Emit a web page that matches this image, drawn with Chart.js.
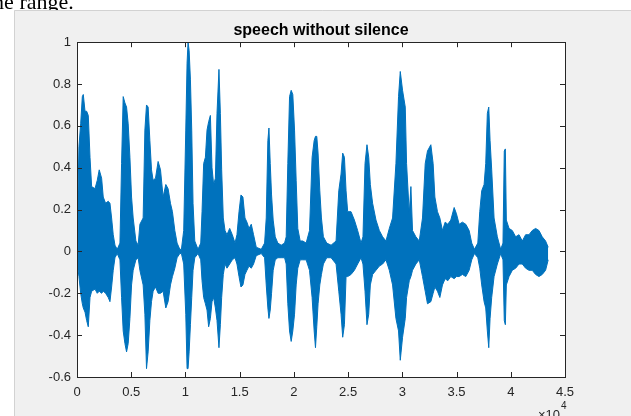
<!DOCTYPE html>
<html>
<head>
<meta charset="utf-8">
<script src="https://cdn.jsdelivr.net/npm/chart.js@4"></script>
<style>
  html, body { margin: 0; padding: 0; background: #fff; overflow: hidden; }
  canvas { display: block; }
</style>
</head>
<body>
<canvas id="chart1" width="631" height="416"></canvas>
<script>
// DATA - envelope of the waveform (sample index, max, min)
const sampleIdx = [
  0, 180, 340, 490, 580, 740, 890, 1040, 1200, 1350, 1660, 1870, 2050, 2270, 2420, 2640, 2880, 3040, 3190, 3340, 3500, 3710,
  3960, 4110, 4260, 4420, 4570, 4720, 4880, 5030, 5180, 5430, 5640,
  5800, 6100, 6260, 6410, 6560, 6720, 6870, 7020, 7240, 7480, 7700, 7940, 8190, 8400, 8620, 8800, 9020, 9230, 9480,
  9630, 9840, 10030, 10150, 10240, 10340, 10460, 10580, 10700, 10860, 11160,
  11410, 11530, 11680, 11840, 11990, 12140, 12300, 12450, 12600, 12760, 12910, 13090, 13220, 13340, 13490, 13650,
  13830, 14080, 14320, 14570, 14750, 14940, 15120, 15300, 15490, 15670, 15860, 16070, 16280, 16530, 16990,
  17300, 17450, 17600, 17700, 17820, 17940, 18090, 18280, 18520, 18830, 19140,
  19290, 19440, 19600, 19750, 19900, 20060, 20210, 20360, 20580, 20820, 21130,
  21440, 21680, 21870, 21990, 22110, 22230, 22390, 22540, 22720, 23030, 23430,
  23890, 24140, 24350, 24500, 24660, 24810, 24960, 25270, 25580, 25880, 26190,
  26370, 26560, 26740, 26900, 27050, 27260, 27570, 27880, 28180, 28490,
  28800, 29100, 29410, 29650, 29810, 30020, 30270, 30390, 30640, 30790, 30940, 31250, 31560,
  31860, 32110, 32320, 32630, 32840, 33000, 33240, 33460, 33700, 33950, 34190, 34470, 34780, 34990, 35240, 35540, 35850, 36160, 36400, 36650,
  36960, 37140, 37320, 37540, 37690, 37840, 37970, 38090, 38240, 38460, 38760, 39070,
  39280, 39400, 39500, 39590, 39840, 40140, 40450, 40760, 41060, 41370, 41680, 41980, 42290, 42600, 42900, 43210, 43450
];
const upperEnv = [
  0.05, 0.50, 0.61, 0.74, 0.75, 0.67, 0.67, 0.65, 0.45, 0.31, 0.30, 0.34, 0.39, 0.35, 0.26, 0.23, 0.24, 0.23, 0.16, 0.08, 0.03, 0.01,
  0.04, 0.42, 0.74, 0.71, 0.69, 0.61, 0.45, 0.26, 0.16, 0.05, 0.03,
  0.13, 0.16, 0.58, 0.70, 0.69, 0.53, 0.39, 0.34, 0.35, 0.43, 0.39, 0.26, 0.32, 0.30, 0.23, 0.19, 0.10, 0.04, 0.01,
  0.01, 0.10, 0.58, 0.90, 1.00, 0.96, 0.82, 0.58, 0.23, 0.05, 0.01,
  0.04, 0.19, 0.42, 0.45, 0.58, 0.62, 0.65, 0.40, 0.32, 0.35, 0.66, 0.87, 0.66, 0.39, 0.16, 0.10,
  0.08, 0.11, 0.08, 0.04, 0.08, 0.19, 0.27, 0.26, 0.16, 0.14, 0.11, 0.13, 0.08, 0.02, 0.01,
  0.04, 0.16, 0.53, 0.59, 0.42, 0.27, 0.15, 0.07, 0.04, 0.03, 0.04,
  0.07, 0.42, 0.74, 0.77, 0.75, 0.58, 0.34, 0.11, 0.05, 0.05, 0.04,
  0.10, 0.45, 0.53, 0.55, 0.55, 0.47, 0.29, 0.16, 0.07, 0.04, 0.03,
  0.05, 0.29, 0.37, 0.47, 0.45, 0.29, 0.19, 0.19, 0.15, 0.10, 0.04,
  0.07, 0.42, 0.51, 0.45, 0.32, 0.23, 0.15, 0.10, 0.07, 0.05,
  0.11, 0.16, 0.42, 0.74, 0.86, 0.77, 0.69, 0.42, 0.18, 0.31, 0.10, 0.07, 0.05,
  0.16, 0.42, 0.48, 0.51, 0.42, 0.26, 0.19, 0.16, 0.10, 0.14, 0.13, 0.15, 0.21, 0.18, 0.13, 0.14, 0.13, 0.10, 0.04, 0.01,
  0.04, 0.19, 0.29, 0.32, 0.42, 0.66, 0.69, 0.53, 0.39, 0.16, 0.07, 0.01,
  0.04, 0.48, 0.49, 0.15, 0.11, 0.10, 0.07, 0.08, 0.05, 0.08, 0.08, 0.10, 0.11, 0.10, 0.07, 0.05, 0.02
];
const lowerEnv = [
  -0.05, -0.12, -0.20, -0.25, -0.27, -0.29, -0.33, -0.36, -0.22, -0.19, -0.18, -0.20, -0.19, -0.20, -0.19, -0.20, -0.22, -0.24, -0.17, -0.09, -0.03, -0.01,
  -0.04, -0.22, -0.38, -0.44, -0.48, -0.44, -0.32, -0.16, -0.09, -0.04, -0.03,
  -0.09, -0.16, -0.30, -0.56, -0.48, -0.33, -0.24, -0.19, -0.17, -0.20, -0.20, -0.19, -0.27, -0.24, -0.16, -0.12, -0.08, -0.03, -0.01,
  -0.01, -0.06, -0.30, -0.56, -0.56, -0.48, -0.35, -0.22, -0.09, -0.03, -0.01,
  -0.04, -0.14, -0.22, -0.25, -0.28, -0.36, -0.32, -0.24, -0.22, -0.27, -0.33, -0.46, -0.35, -0.22, -0.11, -0.06,
  -0.08, -0.06, -0.04, -0.03, -0.06, -0.12, -0.17, -0.16, -0.11, -0.09, -0.07, -0.08, -0.06, -0.02, -0.01,
  -0.03, -0.16, -0.27, -0.32, -0.28, -0.20, -0.09, -0.04, -0.03, -0.03, -0.03,
  -0.06, -0.25, -0.38, -0.43, -0.38, -0.30, -0.16, -0.08, -0.04, -0.04, -0.04,
  -0.09, -0.22, -0.38, -0.46, -0.36, -0.25, -0.16, -0.11, -0.06, -0.03, -0.03,
  -0.06, -0.19, -0.30, -0.41, -0.35, -0.12, -0.12, -0.11, -0.09, -0.06, -0.03,
  -0.06, -0.19, -0.35, -0.30, -0.16, -0.11, -0.09, -0.07, -0.06, -0.04,
  -0.09, -0.16, -0.32, -0.38, -0.52, -0.41, -0.32, -0.22, -0.14, -0.12, -0.09, -0.06, -0.04,
  -0.12, -0.19, -0.25, -0.24, -0.20, -0.17, -0.19, -0.22, -0.16, -0.13, -0.14, -0.12, -0.13, -0.12, -0.12, -0.11, -0.12, -0.09, -0.04, -0.01,
  -0.03, -0.08, -0.16, -0.24, -0.27, -0.38, -0.46, -0.32, -0.22, -0.12, -0.06, -0.01,
  -0.04, -0.33, -0.35, -0.16, -0.12, -0.09, -0.08, -0.06, -0.06, -0.08, -0.09, -0.09, -0.11, -0.12, -0.11, -0.09, -0.04
];

// AXES
const xTicks = [0, 5000, 10000, 15000, 20000, 25000, 30000, 35000, 40000, 45000];
const xTickLabels = ["0", "0.5", "1", "1.5", "2", "2.5", "3", "3.5", "4", "4.5"];
const yTicks = [-0.6, -0.4, -0.2, 0, 0.2, 0.4, 0.6, 0.8, 1];
const yTickLabels = ["-0.6", "-0.4", "-0.2", "0", "0.2", "0.4", "0.6", "0.8", "1"];

const waveBlue = "rgb(0,114,189)";
const axisGrey = "#262626";
const tickFont = { family: "'Liberation Sans', Arial, sans-serif", size: 13 };

// page bits around the MATLAB figure: text line above, grey panel, white axes, box + inner ticks
const matlabFrame = {
  id: "matlabFrame",
  beforeDraw(chart) {
    const ctx = chart.ctx;
    const a = chart.chartArea;
    ctx.save();
    ctx.fillStyle = "#000";
    ctx.font = "22px 'Liberation Serif', serif";
    ctx.textBaseline = "alphabetic";
    ctx.fillText("the range.", -13, 9);
    ctx.fillStyle = "#f0f0f0";
    ctx.fillRect(14, 10, 617, 406);
    ctx.strokeStyle = "#d2d2d2";
    ctx.lineWidth = 1;
    ctx.beginPath();
    ctx.moveTo(14.5, 416);
    ctx.lineTo(14.5, 10.5);
    ctx.lineTo(631, 10.5);
    ctx.stroke();
    ctx.fillStyle = "#fff";
    ctx.fillRect(a.left, a.top, a.right - a.left, a.bottom - a.top);
    ctx.restore();
  },
  afterDraw(chart) {
    const ctx = chart.ctx;
    const a = chart.chartArea;
    const xs = chart.scales.x;
    const ys = chart.scales.y;
    ctx.save();
    ctx.strokeStyle = axisGrey;
    ctx.lineWidth = 1;
    ctx.beginPath();
    xTicks.forEach(v => {
      const px = Math.round(xs.getPixelForValue(v)) + 0.5;
      ctx.moveTo(px, a.bottom); ctx.lineTo(px, a.bottom - 5);
      ctx.moveTo(px, a.top); ctx.lineTo(px, a.top + 5);
    });
    yTicks.forEach(v => {
      const py = Math.round(ys.getPixelForValue(v)) + 0.5;
      ctx.moveTo(a.left, py); ctx.lineTo(a.left + 5, py);
      ctx.moveTo(a.right, py); ctx.lineTo(a.right - 5, py);
    });
    ctx.stroke();
    ctx.strokeRect(Math.round(a.left) + 0.5, Math.round(a.top) + 0.5,
      Math.round(a.right - a.left), Math.round(a.bottom - a.top));
    // exponent of the x axis
    ctx.fillStyle = axisGrey;
    ctx.textAlign = "left";
    ctx.textBaseline = "alphabetic";
    ctx.font = "13px 'Liberation Sans', Arial, sans-serif";
    ctx.fillText("\u00d710", 538, 419);
    ctx.font = "10px 'Liberation Sans', Arial, sans-serif";
    ctx.fillText("4", 561, 409);
    ctx.restore();
  }
};

new Chart(document.getElementById("chart1"), {
  type: "line",
  data: {
    datasets: [
      {
        data: sampleIdx.map((s, i) => ({ x: s, y: upperEnv[i] })),
        borderColor: waveBlue,
        backgroundColor: waveBlue,
        borderWidth: 1,
        pointRadius: 0,
        tension: 0,
        fill: "+1"
      },
      {
        data: sampleIdx.map((s, i) => ({ x: s, y: lowerEnv[i] })),
        borderColor: waveBlue,
        backgroundColor: waveBlue,
        borderWidth: 1,
        pointRadius: 0,
        tension: 0,
        fill: false
      }
    ]
  },
  options: {
    responsive: false,
    animation: false,
    devicePixelRatio: 1,
    layout: { padding: { left: 14, right: 66, top: 11, bottom: 11 } },
    plugins: {
      legend: { display: false },
      tooltip: { enabled: false },
      title: {
        display: true,
        fullSize: false,
        text: "speech without silence",
        color: "#000",
        font: { family: "'Liberation Sans', Arial, sans-serif", size: 16, weight: "bold" },
        padding: { top: 10, bottom: 2 }
      }
    },
    scales: {
      x: {
        type: "linear",
        min: 0,
        max: 45000,
        afterBuildTicks: s => { s.ticks = xTicks.map(v => ({ value: v })); },
        afterFit: s => { s.height = 28; },
        ticks: {
          color: axisGrey,
          font: tickFont,
          padding: 8,
          maxRotation: 0,
          callback: (v, i) => xTickLabels[i]
        },
        grid: { display: false, drawTicks: false },
        border: { display: false }
      },
      y: {
        min: -0.6,
        max: 1,
        afterBuildTicks: s => { s.ticks = yTicks.map(v => ({ value: v })); },
        afterFit: s => { s.width = 63; },
        ticks: {
          color: axisGrey,
          font: tickFont,
          padding: 6,
          callback: (v, i) => yTickLabels[i]
        },
        grid: { display: false, drawTicks: false },
        border: { display: false }
      }
    }
  },
  plugins: [matlabFrame]
});
</script>
</body>
</html>
